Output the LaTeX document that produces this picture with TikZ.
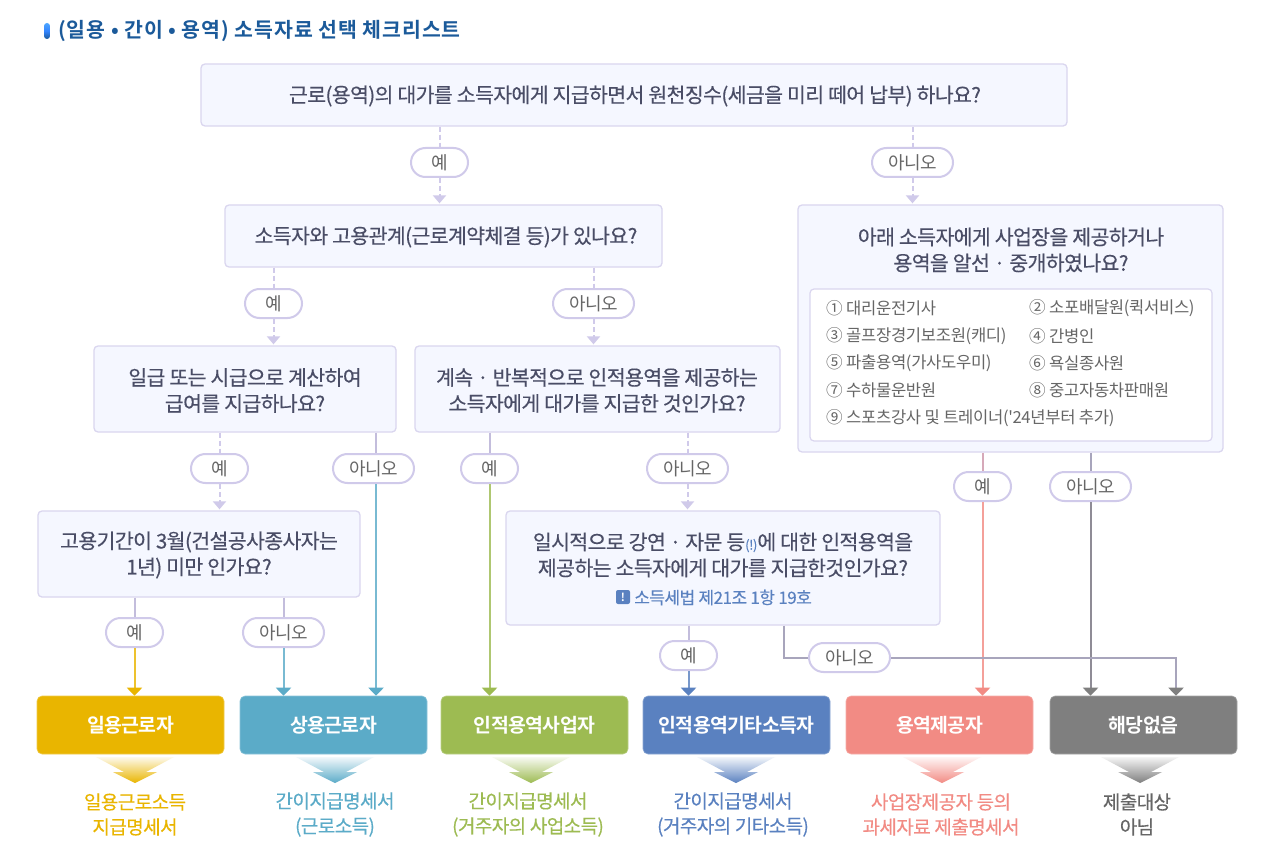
\documentclass[tikz,border=0pt]{standalone}
\usepackage{fontspec}
\setmainfont{Noto Sans CJK KR}
\newfontfamily\qfont[LetterSpace=-3,FakeBold=0.35]{Noto Sans CJK KR}
\newfontfamily\pfont[LetterSpace=-2]{Noto Sans CJK KR}
\newfontfamily\rfont[LetterSpace=-3]{Noto Sans CJK KR Bold}
\newfontfamily\sfont[LetterSpace=-3,FakeBold=0.3]{Noto Sans CJK KR}
\newfontfamily\tfont[LetterSpace=4.5]{Noto Sans CJK KR Bold}
\newfontfamily\lfont[LetterSpace=-2]{Noto Sans CJK KR}
\usetikzlibrary{arrows.meta}
\definecolor{qtext}{HTML}{4A4D66}
\definecolor{qline}{HTML}{DAD6EF}
\definecolor{qfill}{HTML}{F5F7FF}
\definecolor{pline}{HTML}{D0CAEA}
\definecolor{ptext}{HTML}{666666}
\definecolor{cyel}{HTML}{E9B500}
\definecolor{cblu}{HTML}{5BABC8}
\definecolor{coli}{HTML}{9DBB52}
\definecolor{cind}{HTML}{5A81C0}
\definecolor{csal}{HTML}{F28B84}
\definecolor{cgry}{HTML}{7F7F7F}
\definecolor{upline}{HTML}{C3BDDC}
\definecolor{noline}{HTML}{A8A5BC}
\definecolor{grayline}{HTML}{8F8C96}
\definecolor{titleblue}{HTML}{1B5A9A}
\tikzset{
  x=1pt,y=-1pt,
  qtype/.style={text=qtext,align=center,inner sep=0pt,font=\qfont\fontsize{20.5}{26}\selectfont},
  qbox/.style={qtype,draw=qline,line width=1.3pt,fill=qfill,rounded corners=4pt},
  pill/.style={draw=pline,line width=2pt,fill=white,rounded corners=14.5pt,inner sep=0pt,
    minimum height=29pt,text=ptext,font=\pfont\fontsize{18}{20}\selectfont},
  ye/.style={pill,minimum width=57pt},
  ani/.style={pill,minimum width=81pt},
  res/.style={fill=#1,draw=#1!70!white,line width=.6pt,rounded corners=5pt,minimum width=187pt,minimum height=58pt,inner sep=0pt,
    text=white,font=\rfont\fontsize{19.4}{22}\selectfont},
  sub/.style={text=#1,align=center,inner sep=0pt,font=\sfont\fontsize{19}{25}\selectfont},
  dashline/.style={draw=pline,line width=2pt,dash pattern=on 5pt off 3pt},
  dasharrow/.style={dashline,-{Triangle[width=13pt,length=8pt,fill=pline]},shorten >=1pt},
  upseg/.style={draw=upline,line width=2pt},
  col/.style={draw=#1!82!white,line width=2pt,-{Triangle[width=15pt,length=8pt,color=#1,fill=#1]}},
  gcol/.style={draw=#1,line width=2pt,-{Triangle[width=15pt,length=8pt,color=cgry,fill=cgry]}},
  item/.style={anchor=west,inner sep=0pt,text=ptext,font=\lfont\fontsize{16.6}{18}\selectfont},
}
\newcommand{\funnel}[3]{% x, name, color
  \shade[top color=#3!8!white,bottom color=#3] (#1-39,757) -- (#1+39,757) -- (#1+11,772) -- (#1+22,772) -- (#1,783) -- (#1-22,772) -- (#1-11,772) -- cycle;
}
\begin{document}
\begin{tikzpicture}
\useasboundingbox (0,0) rectangle (1277,861);
\fill[white] (0,0) rectangle (1277,861);
% title
\shade[top color=blue!50!cyan!70!white,bottom color=titleblue,middle color=blue!60!cyan!80!white,rounded corners=3pt] (44,23) rectangle (50,39);
\node[anchor=west,inner sep=0pt,text=titleblue,font=\tfont\fontsize{20.5}{22}\selectfont] (title) at (58,31) {(일용 • 간이 • 용역) 소득자료 선택 체크리스트};
% question boxes
\node[qbox,minimum width=866pt,minimum height=62pt] (q1) at (634,95) {};
\node[qtype] (q1t) at (635,96) {근로(용역)의 대가를 소득자에게 지급하면서 원천징수(세금을 미리 떼어 납부) 하나요?};
\node[qbox,minimum width=437pt,minimum height=62pt] (q2) at (443.5,236) {};
\node[qtype] (q2t) at (446,237) {소득자와 고용관계(근로계약체결 등)가 있나요?};
\node[qbox,minimum width=425pt,minimum height=247pt] (q3) at (1010.5,328.5) {};
\node[qtype] (q3t) at (1011,250) {아래 소득자에게 사업장을 제공하거나\\용역을 알선 · 중개하였나요?};
\node[draw=qline,line width=1.2pt,fill=white,rounded corners=4pt,minimum width=402pt,minimum height=152pt,inner sep=0pt] (inner) at (1011,365) {};
\node[qbox,minimum width=302pt,minimum height=86pt] (q4) at (245,389) {};
\node[qtype] (q4t) at (245,390.5) {일급 또는 시급으로 계산하여\\급여를 지급하나요?};
\node[qbox,minimum width=365pt,minimum height=86pt] (q5) at (597.5,389) {};
\node[qtype] (q5t) at (597,390.5) {계속 · 반복적으로 인적용역을 제공하는\\소득자에게 대가를 지급한 것인가요?};
\node[qbox,minimum width=322pt,minimum height=86pt] (q6) at (199,554) {};
\node[qtype] (q6t) at (199,555) {고용기간이 3월(건설공사종사자는\\1년) 미만 인가요?};
\node[qbox,minimum width=434pt,minimum height=114pt] (q7) at (723,568) {};
\node[qtype] (q7t) at (723,555) {일시적으로 강연 · 자문 등{\fontsize{13}{12}\selectfont\color{cind}(!)}에 대한 인적용역을\\제공하는 소득자에게 대가를 지급한것인가요?};
\node[fill=cind,rounded corners=2pt,minimum width=14pt,minimum height=14pt,inner sep=0pt,text=white,font=\rfont\fontsize{11}{12}\selectfont] (ico) at (623,597) {!};
\node[anchor=west,inner sep=0pt,text=cind,font=\qfont\fontsize{17}{18}\selectfont] (law) at (634,597.5) {소득세법 제21조 1항 19호};
% list
\node[item] (i1) at (826,308.5) {① 대리운전기사};
\node[item] (i2) at (1029,308.5) {② 소포배달원(퀵서비스)};
\node[item] (i3) at (826,336.5) {③ 골프장경기보조원(캐디)};
\node[item] (i4) at (1029,336.5) {④ 간병인};
\node[item] (i5) at (826,363.5) {⑤ 파출용역(가사도우미)};
\node[item] (i6) at (1029,363.5) {⑥ 욕실종사원};
\node[item] (i7) at (826,390.5) {⑦ 수하물운반원};
\node[item] (i8) at (1029,390.5) {⑧ 중고자동차판매원};
\node[item] (i9) at (826,418.5) {⑨ 스포츠강사 및 트레이너('24년부터 추가)};
% result boxes
\node[res=cyel] (r1) at (130.5,725) {일용근로자};
\node[res=cblu] (r2) at (333.5,725) {상용근로자};
\node[res=coli] (r3) at (534.5,725) {인적용역사업자};
\node[res=cind] (r4) at (736.5,725) {인적용역기타소득자};
\node[res=csal] (r5) at (939.5,725) {용역제공자};
\node[res=cgry] (r6) at (1143.5,725) {해당없음};
% funnels
\funnel{135}{f1}{cyel}
\funnel{335}{f2}{cblu}
\funnel{531}{f3}{coli}
\funnel{736}{f4}{cind}
\funnel{942}{f5}{csal}
\funnel{1140}{f6}{cgry}
% sub labels
\node[sub=cyel] (s1) at (135,814.5) {일용근로소득\\지급명세서};
\node[sub=cblu] (s2) at (335,814.5) {간이지급명세서\\(근로소득)};
\node[sub=coli] (s3) at (528,814.5) {간이지급명세서\\(거주자의 사업소득)};
\node[sub=cind] (s4) at (733,814.5) {간이지급명세서\\(거주자의 기타소득)};
\node[sub=csal] (s5) at (941,814.5) {사업장제공자 등의\\과세자료 제출명세서};
\node[sub=ptext] (s6) at (1137,814.5) {제출대상\\아님};
% pills
\node[ye] (p1) at (439.5,162.5) {예};
\node[ani] (p2) at (912.5,162.5) {아니오};
\node[ye] (p3) at (273.5,303.5) {예};
\node[ani] (p4) at (593.5,303.5) {아니오};
\node[ye] (p5) at (219.5,468.5) {예};
\node[ani] (p6) at (373.5,468.5) {아니오};
\node[ye] (p7) at (489.5,468.5) {예};
\node[ani] (p8) at (687.5,468.5) {아니오};
\node[ye] (p9) at (134.5,632.5) {예};
\node[ani] (p10) at (283.5,632.5) {아니오};
\node[ye] (p11) at (688.5,655.5) {예};
\node[ani] (p12) at (849.5,657.5) {아니오};
\node[ye] (p13) at (982.5,486.5) {예};
\node[ani] (p14) at (1090.5,486.5) {아니오};
\coordinate (x376) at (376,0);
\coordinate (x784) at (784,0);
\coordinate (x1176) at (1176,0);
% connectors
\draw[dashline] (q1.south -| p1) -- (p1.north);
\draw[dasharrow] (p1.south) -- (q2.north -| p1);
\draw[dashline] (q1.south -| p2) -- (p2.north);
\draw[dasharrow] (p2.south) -- (q3.north -| p2);
\draw[dashline] (q2.south -| p3) -- (p3.north);
\draw[dasharrow] (p3.south) -- (q4.north -| p3);
\draw[dashline] (q2.south -| p4) -- (p4.north);
\draw[dasharrow] (p4.south) -- (q5.north -| p4);
\draw[dashline] (q4.south -| p5) -- (p5.north);
\draw[dasharrow] (p5.south) -- (q6.north -| p5);
\draw[dashline] (q5.south -| p8) -- (p8.north);
\draw[dasharrow] (p8.south) -- (q7.north -| p8);
\draw[upseg] (q4.south -| x376) -- (p6.north -| x376);
\draw[col=cblu] (p6.south -| x376) -- (r2.north -| x376);
\draw[upseg] (q5.south -| p7) -- (p7.north);
\draw[col=coli] (p7.south) -- (r3.north -| p7);
\draw[upseg] (q6.south -| p9) -- (p9.north);
\draw[col=cyel] (p9.south) -- (r1.north -| p9);
\draw[upseg] (q6.south -| p10) -- (p10.north);
\draw[col=cblu] (p10.south) -- (r2.north -| p10);
\draw[upseg] (q7.south -| p11) -- (p11.north);
\draw[col=cind] (p11.south) -- (r4.north -| p11);
\draw[draw=noline,line width=2pt] (q3.south -| p14) -- (p14.north);
\draw[draw=upline!60!csal,line width=2pt] (q3.south -| p13) -- (p13.north);
\draw[col=csal] (p13.south) -- (r5.north -| p13);
\draw[gcol=grayline] (p14.south) -- (r6.north -| p14);
\draw[draw=noline,line width=2pt,line join=miter] (q7.south -| x784) |- (p12.west);
\draw[gcol=noline] (p12.east) -| (r6.north -| x1176);
\end{tikzpicture}
\end{document}
